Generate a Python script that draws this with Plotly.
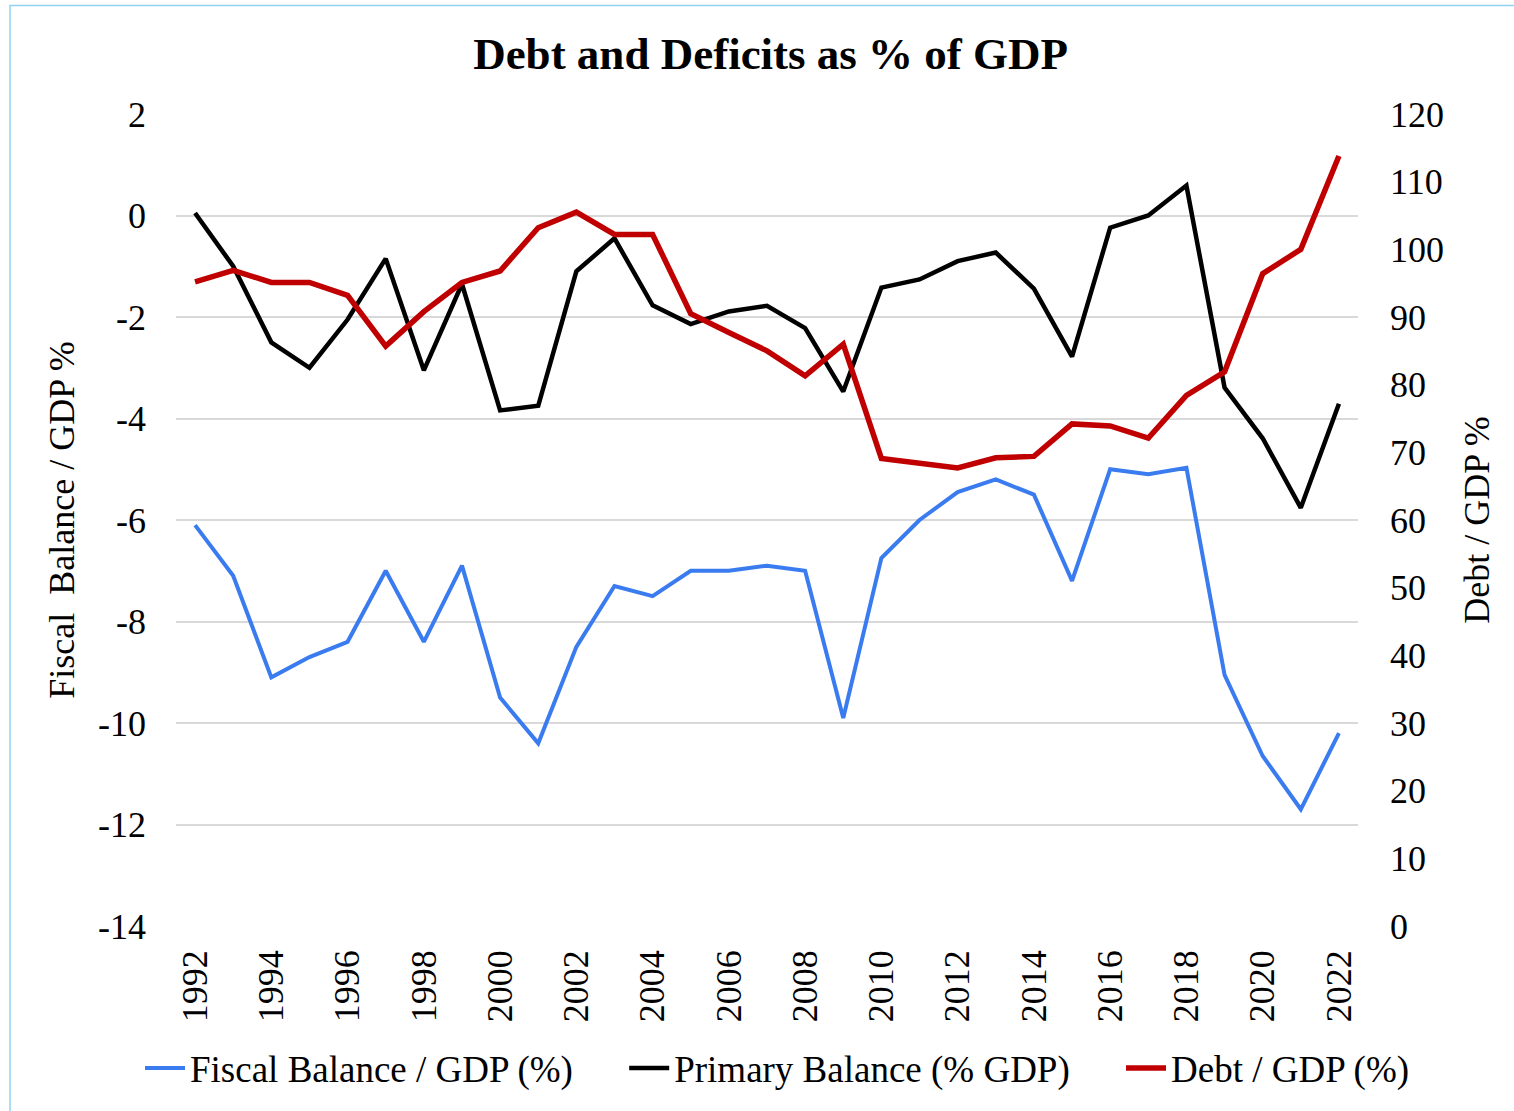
import plotly.graph_objects as go

# Annual series, 1992-2022
years = list(range(1992, 2023))

fiscal_balance = [
    -6.1, -7.1, -9.1, -8.7, -8.4, -7.0, -8.4, -6.9, -9.5, -10.4,
    -8.5, -7.3, -7.5, -7.0, -7.0, -6.9, -7.0, -9.9, -6.75, -6.0,
    -5.45, -5.2, -5.5, -7.2, -5.0, -5.1, -4.97, -9.05, -10.65, -11.7,
    -10.2,
]

primary_balance = [
    0.05, -1.0, -2.5, -3.0, -2.05, -0.85, -3.05, -1.35, -3.84, -3.75,
    -1.1, -0.45, -1.77, -2.14, -1.89, -1.78, -2.22, -3.47, -1.42, -1.26,
    -0.9, -0.73, -1.44, -2.78, -0.24, 0.0, 0.59, -3.39, -4.39, -5.76,
    -3.71,
]

debt_gdp = [
    95.2, 96.9, 95.1, 95.1, 93.2, 85.7, 90.8, 95.1, 96.8, 103.2,
    105.5, 102.2, 102.2, 90.5, 87.7, 85.0, 81.3, 86.0, 69.1, 68.5,
    67.7, 69.2, 69.4, 74.2, 73.9, 72.1, 78.4, 81.9, 96.4, 100.0,
    113.8,
]

left_ticks = list(range(-14, 3, 2))
left_labels = [str(v) for v in left_ticks]  # plain hyphen for negatives
right_ticks = list(range(0, 121, 10))
year_ticks = list(range(1992, 2023, 2))

FONT = "Liberation Serif, Times New Roman, serif"
PAD = "\u00a0" * 5  # spacing between legend entries

fig = go.Figure()

fig.add_trace(go.Scatter(
    x=years, y=fiscal_balance, name="Fiscal Balance / GDP (%)" + PAD,
    mode="lines", line=dict(color="#3A7CF0", width=4),
))
fig.add_trace(go.Scatter(
    x=years, y=primary_balance, name="Primary Balance (% GDP)" + PAD,
    mode="lines", line=dict(color="#000000", width=4.5),
))
fig.add_trace(go.Scatter(
    x=years, y=debt_gdp, name="Debt / GDP (%)",
    mode="lines", line=dict(color="#C00000", width=5.5), yaxis="y2",
))

fig.update_layout(
    width=1514, height=1111,
    margin=dict(l=176, r=156, t=114, b=182),
    paper_bgcolor="white", plot_bgcolor="white",
    font=dict(family=FONT, size=36, color="#000000"),
    title=dict(
        text="<b>Debt and Deficits as % of GDP</b>",
        font=dict(family=FONT, size=45, color="#000000"),
        xref="container", x=0.509, xanchor="center",
        yref="container", y=1 - 53 / 1111, yanchor="middle",
    ),
    xaxis=dict(
        range=[1991.5, 2022.5],
        tickmode="array", tickvals=year_ticks,
        ticktext=[str(y) for y in year_ticks],
        tickangle=-90, showgrid=False, zeroline=False, showline=False,
        ticklabelstandoff=16,
        tickfont=dict(family=FONT, size=36),
    ),
    yaxis=dict(
        range=[-14, 2], tickmode="array", tickvals=left_ticks,
        ticktext=left_labels,
        showgrid=True, gridcolor="#d9d9d9", gridwidth=2,
        zeroline=False, showline=False,
        ticklabelstandoff=29,
        tickfont=dict(family=FONT, size=36),
        title=dict(text="Fiscal  Balance / GDP %", standoff=12,
                   font=dict(family=FONT, size=36)),
    ),
    yaxis2=dict(
        range=[0, 120], tickmode="array", tickvals=right_ticks,
        overlaying="y", side="right",
        showgrid=False, zeroline=False, showline=False,
        ticklabelstandoff=31,
        tickfont=dict(family=FONT, size=36),
        title=dict(text="Debt / GDP %", standoff=20,
                   font=dict(family=FONT, size=36)),
    ),
    legend=dict(
        orientation="h", xref="paper", x=(140 - 176) / 1182, xanchor="left",
        yref="paper", y=(929 - 1072) / 815, yanchor="middle",
        font=dict(family=FONT, size=37),
        bgcolor="rgba(0,0,0,0)",
        itemwidth=40,
    ),
    showlegend=True,
)

# Light frame around the chart area
fig.add_shape(
    type="rect", xref="paper", yref="paper",
    x0=(10 - 176) / 1182, x1=(1530 - 176) / 1182,
    y0=(929 - 1130) / 815, y1=(929 - 5) / 815,
    line=dict(color="#8ED3F2", width=1.5), fillcolor="rgba(0,0,0,0)",
    layer="below",
)

fig.write_html("out.html")
